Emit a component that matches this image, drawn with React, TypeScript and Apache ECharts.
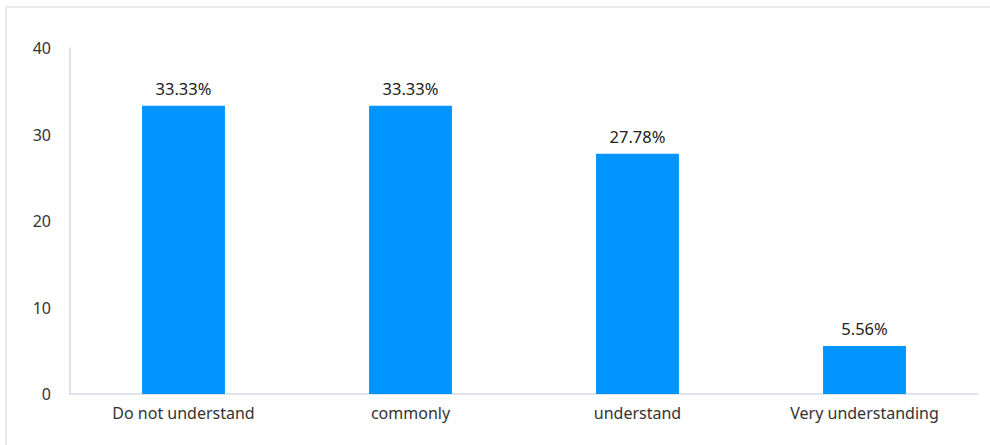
import React, { useEffect, useRef } from "react";
import * as echarts from "echarts";

const categories = ["Do not understand", "commonly", "understand", "Very understanding"];
const values = [33.33, 33.33, 27.78, 5.56];

export default function App() {
  const ref = useRef<HTMLDivElement>(null);
  useEffect(() => {
    if (!ref.current) return;
    const chart = echarts.init(ref.current, undefined, { renderer: "svg" });
    chart.setOption({
      animation: false,
      textStyle: { fontFamily: "'Noto Sans', sans-serif" },
      grid: { left: 70, right: 12, top: 48, bottom: 51, containLabel: false },
      xAxis: {
        type: "category",
        data: categories,
        axisLine: { lineStyle: { color: "#d3dbee", width: 1.5 } },
        axisTick: { show: false },
        axisLabel: { color: "#333", fontSize: 16, margin: 11 },
      },
      yAxis: {
        type: "value",
        min: 0,
        max: 40,
        interval: 10,
        axisLine: { show: true, lineStyle: { color: "#d3dbee", width: 1.5 } },
        axisTick: { show: false },
        splitLine: { show: false },
        axisLabel: { color: "#333", fontSize: 16, margin: 19 },
      },
      series: [
        {
          type: "bar",
          data: values,
          barWidth: "36.5%",
          itemStyle: { color: "#0094ff" },
          label: {
            show: true,
            position: "top",
            distance: 9,
            color: "#222",
            fontSize: 16.5,
            formatter: (p: any) => p.value.toFixed(2) + "%",
          },
        },
      ],
    });
    return () => chart.dispose();
  }, []);
  return (
    <div style={{ position: "fixed", left: 0, top: 0, width: 990, height: 445, background: "#fff", overflow: "hidden" }}>
      <div
        style={{
          position: "absolute",
          left: 5,
          top: 6,
          width: 1100,
          height: 600,
          border: "2px solid #e9e9e9",
          boxSizing: "border-box",
        }}
      />
      <div ref={ref} style={{ position: "absolute", left: 0, top: 0, width: 990, height: 445 }} />
    </div>
  );
}
